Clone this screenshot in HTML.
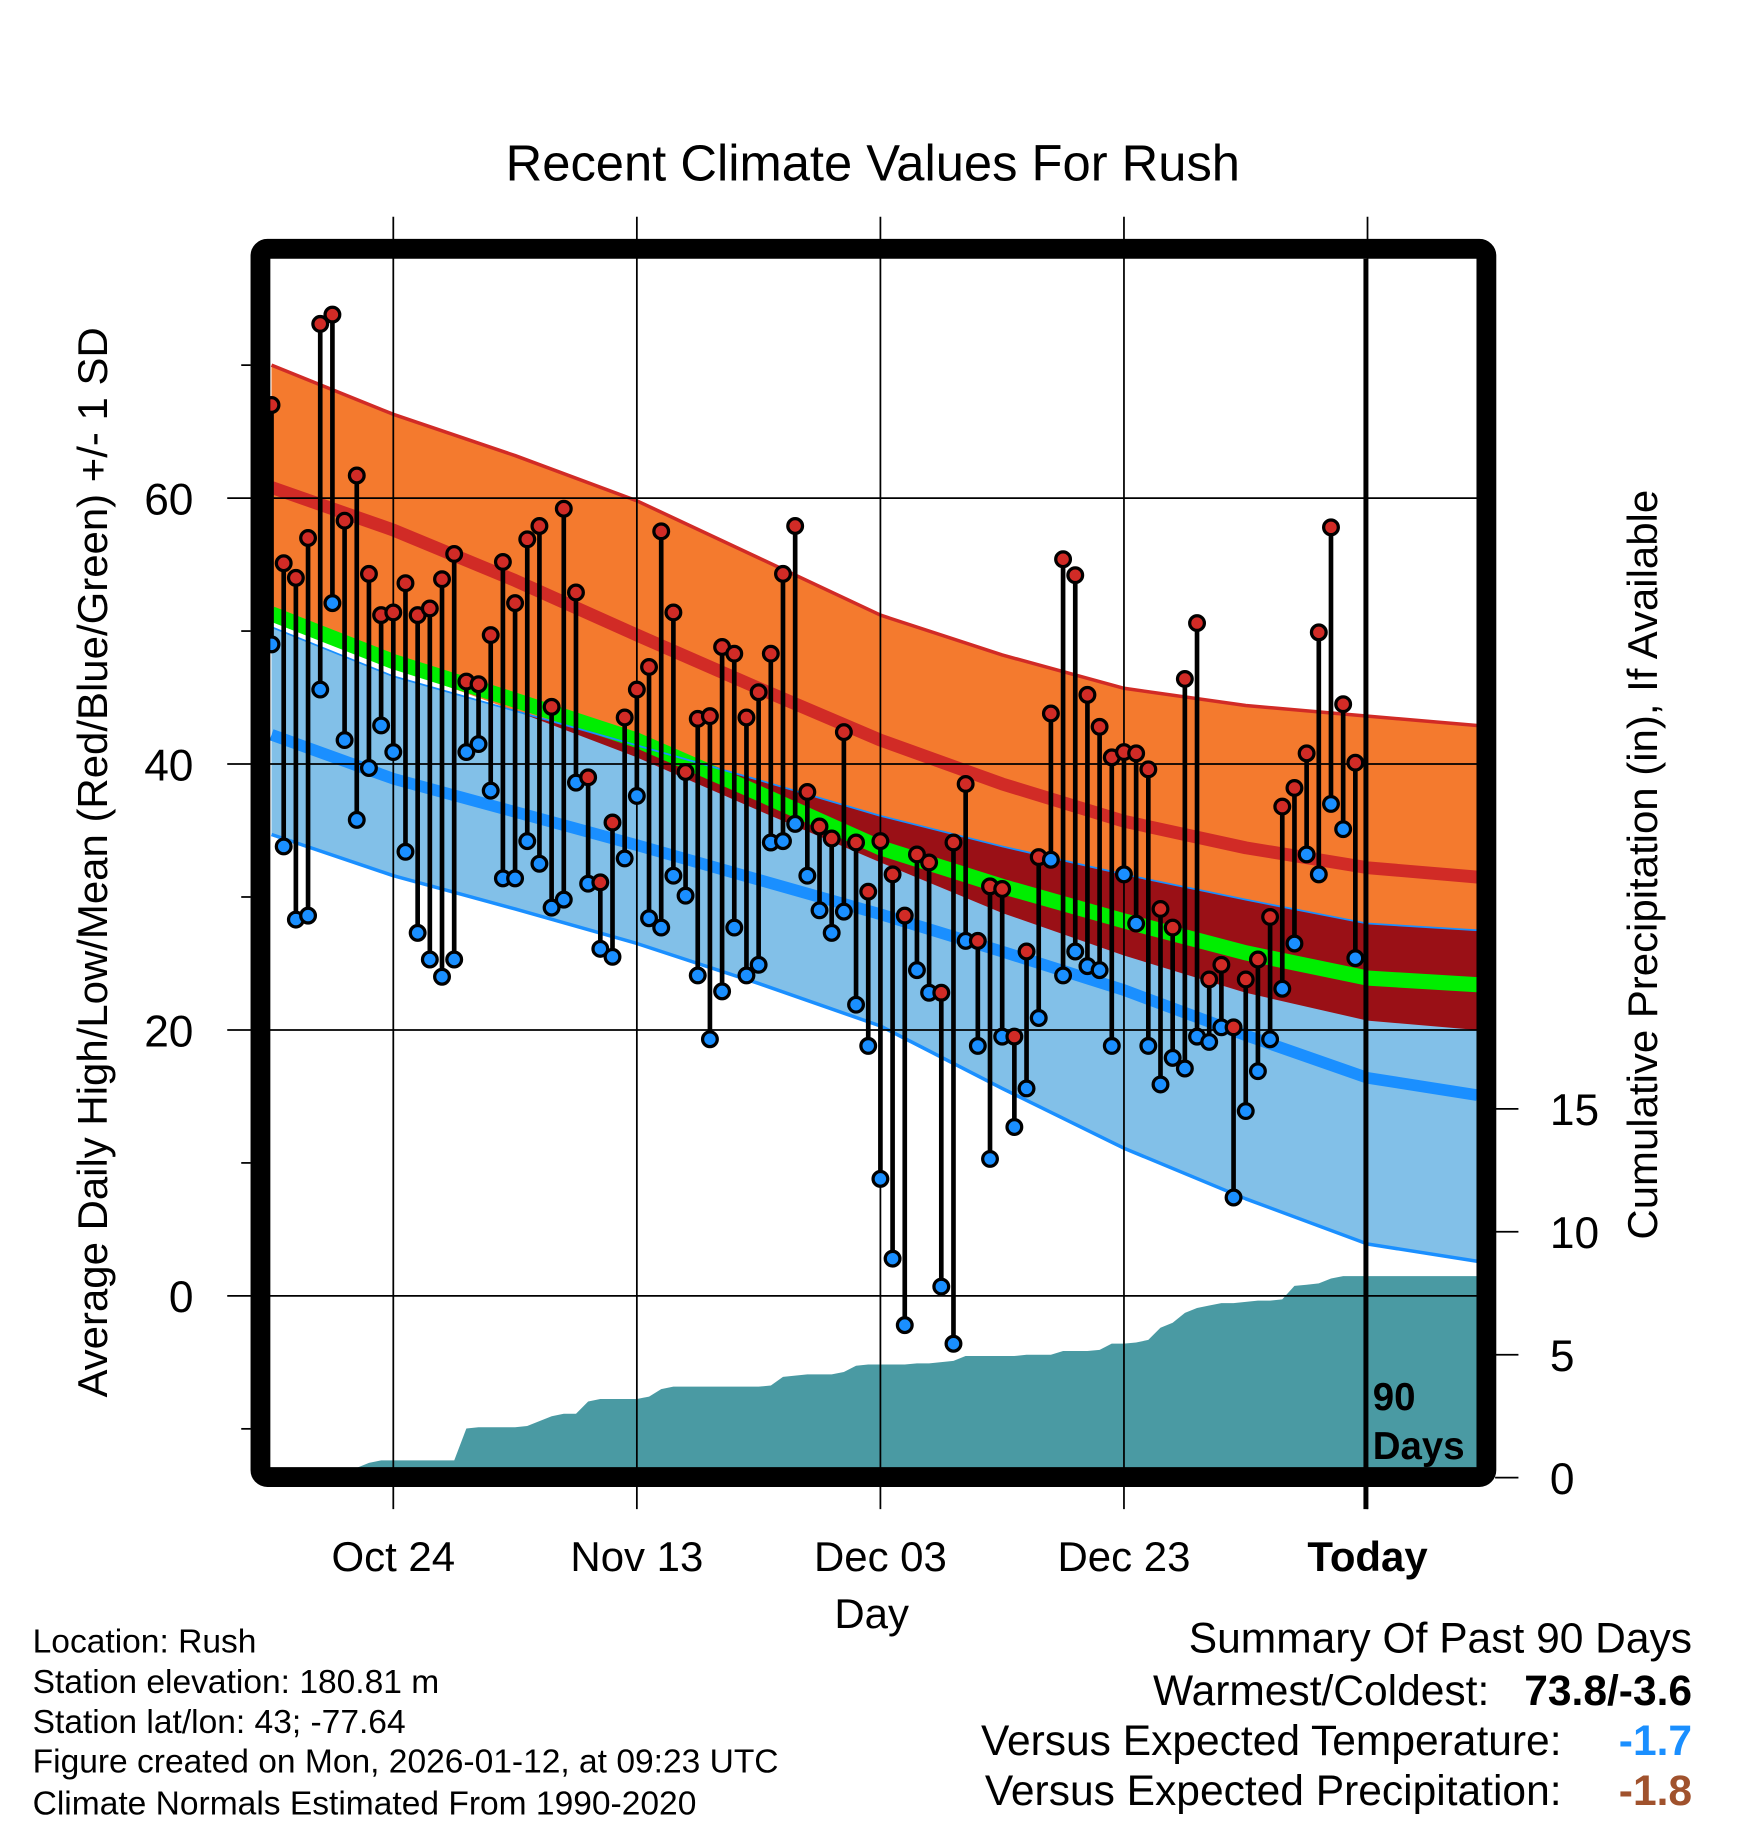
<!DOCTYPE html>
<html><head><meta charset="utf-8">
<style>
html,body{margin:0;padding:0;background:#fff}
svg{display:block}
text{font-family:"Liberation Sans",sans-serif}
</style></head>
<body>
<svg id="chart" width="1748" height="1828" viewBox="0 0 1500 1568.6" xmlns="http://www.w3.org/2000/svg">
<text x="749" y="155" font-size="43.5" text-anchor="middle">Recent Climate Values For Rush</text>
<g id="bands"></g>
<g id="grid"></g>
<g id="marks"></g>
<rect x="223.5" y="213.5" width="1052" height="1054" fill="none" stroke="#000" stroke-width="17" rx="6"/>
<line x1="1172" y1="222" x2="1172" y2="1295" stroke="#000" stroke-width="4"/>
<text x="1178" y="1210" font-size="33" font-weight="bold">90</text>
<text x="1178" y="1252" font-size="33" font-weight="bold">Days</text>
<g id="axes"></g>
<text x="748" y="1397" font-size="36" text-anchor="middle">Day</text>
<text transform="translate(92,740) rotate(-90)" font-size="36" text-anchor="middle">Average Daily High/Low/Mean (Red/Blue/Green) +/- 1 SD</text>
<text transform="translate(1422,742) rotate(-90)" font-size="36" text-anchor="middle">Cumulative Precipitation (in), If Available</text>
<g font-size="28.8">
<text x="28" y="1418">Location: Rush</text>
<text x="28" y="1453">Station elevation: 180.81 m</text>
<text x="28" y="1487">Station lat/lon: 43; -77.64</text>
<text x="28" y="1521">Figure created on Mon, 2026-01-12, at 09:23 UTC</text>
<text x="28" y="1557">Climate Normals Estimated From 1990-2020</text>
</g>
<g font-size="36.5">
<text x="1452" y="1418" text-anchor="end">Summary Of Past 90 Days</text>
<text x="1278" y="1463" text-anchor="end">Warmest/Coldest:</text>
<text x="1452" y="1463" text-anchor="end" font-weight="bold">73.8/-3.6</text>
<text x="1340" y="1506" text-anchor="end">Versus Expected Temperature:</text>
<text x="1452" y="1506" text-anchor="end" font-weight="bold" fill="#1a8fff">-1.7</text>
<text x="1340" y="1549" text-anchor="end">Versus Expected Precipitation:</text>
<text x="1452" y="1549" text-anchor="end" font-weight="bold" fill="#a0522d">-1.8</text>
</g>
</svg>
<script>
const highs=[67.0,55.1,54.0,57.0,73.1,73.8,58.3,61.7,54.3,51.2,51.4,53.6,51.2,51.7,53.9,55.8,46.2,46.0,49.7,55.2,52.1,56.9,57.9,44.3,59.2,52.9,39.0,31.1,35.6,43.5,45.6,47.3,57.5,51.4,39.4,43.4,43.6,48.8,48.3,43.5,45.4,48.3,54.3,57.9,37.9,35.3,34.4,42.4,34.1,30.4,34.2,31.7,28.6,33.2,32.6,22.8,34.1,38.5,26.7,30.8,30.6,19.5,25.9,33.0,43.8,55.4,54.2,45.2,42.8,40.5,40.9,40.8,39.6,29.1,27.7,46.4,50.6,23.8,24.9,20.2,23.8,25.3,28.5,36.8,38.2,40.8,49.9,57.8,44.5,40.1];
const lows=[49.0,33.8,28.3,28.6,45.6,52.1,41.8,35.8,39.7,42.9,40.9,33.4,27.3,25.3,24.0,25.3,40.9,41.5,38.0,31.4,31.4,34.2,32.5,29.2,29.8,38.6,31.0,26.1,25.5,32.9,37.6,28.4,27.7,31.6,30.1,24.1,19.3,22.9,27.7,24.1,24.9,34.1,34.2,35.5,31.6,29.0,27.3,28.9,21.9,18.8,8.8,2.8,-2.2,24.5,22.8,0.7,-3.6,26.7,18.8,10.3,19.5,12.7,15.6,20.9,32.8,24.1,25.9,24.8,24.5,18.8,31.7,28.0,18.8,15.9,17.9,17.1,19.5,19.1,20.2,7.4,13.9,16.9,19.3,23.1,26.5,33.2,31.7,37.0,35.1,25.4];
const precip=[0,0,0,0,0,0,0.4,0.4,0.6,0.7,0.7,0.7,0.7,0.7,0.7,0.7,2.0,2.05,2.05,2.05,2.05,2.1,2.3,2.5,2.6,2.6,3.1,3.2,3.2,3.2,3.2,3.3,3.6,3.7,3.7,3.7,3.7,3.7,3.7,3.7,3.7,3.75,4.1,4.15,4.2,4.2,4.2,4.3,4.55,4.6,4.6,4.6,4.6,4.65,4.65,4.7,4.75,4.95,4.95,4.95,4.95,4.95,5.0,5.0,5.0,5.15,5.15,5.15,5.2,5.45,5.45,5.5,5.6,6.1,6.3,6.7,6.9,7.0,7.1,7.1,7.15,7.2,7.2,7.25,7.8,7.85,7.9,8.1,8.2,8.2];
const normDays=[0,10,20,30,40,50,60,70,80,90,99];
const highPlus=[70.0,66.3,63.2,59.8,55.5,51.2,48.2,45.7,44.4,43.6,42.9];
const highMean=[60.8,57.6,53.8,49.7,45.7,41.8,38.5,35.7,33.7,32.2,31.5];
const highMinus=[50.8,47.3,44.0,40.5,36.5,32.6,28.8,25.6,22.8,20.7,20.0];
const meanT=[51.3,47.7,44.8,41.8,37.8,33.7,30.8,28.2,25.8,23.9,23.4];
const lowPlus=[50.3,46.6,44.0,41.4,38.8,36.1,33.8,31.7,29.8,28.0,27.5];
const lowMean=[42.2,38.9,36.4,33.9,31.3,28.7,25.9,23.0,19.6,16.4,15.1];
const lowMinus=[34.7,31.6,29.1,26.5,23.5,20.3,15.6,11.1,7.3,3.9,2.6];
const xTickDays=[10,30,50,70,90];
const xTickLabels=["Oct 24","Nov 13","Dec 03","Dec 23","Today"];
const yTicks=[0,20,40,60];
const yMinor=[-10,10,30,50,70];
const pTicks=[0,5,10,15];

const NS="http://www.w3.org/2000/svg";
const X=d=>233+10.45*d;
const Y=v=>1112-11.41*v;
const P=p=>Math.min(1260,1268-21.1*p);
function mk(tag,attrs,parent){const e=document.createElementNS(NS,tag);for(const k in attrs)e.setAttribute(k,attrs[k]);parent.appendChild(e);return e;}
const bands=document.getElementById('bands'),grid=document.getElementById('grid'),marks=document.getElementById('marks'),axes=document.getElementById('axes');
const xEnd=1268;
const nx=i=>Math.min(X(normDays[i]),xEnd);
const pts=arr=>arr.map((v,i)=>nx(i).toFixed(1)+','+Y(v).toFixed(1));
let pp=['232,1260','232,'+P(precip[0]).toFixed(1)];
precip.forEach((p,i)=>pp.push(X(i).toFixed(1)+','+P(p).toFixed(1)));
pp.push(xEnd+','+P(precip[precip.length-1]).toFixed(1));pp.push(xEnd+',1260');
let el=mk('polygon',{points:pp.join(' '),fill:'#4a9aa3'},bands);


function band(top,bot,fill,name){const p=pts(top).concat(pts(bot).reverse());const e=mk('polygon',{points:p.join(' '),fill:fill},bands);

}
band(highPlus,highMinus,'#f47a2e','high-sd-band');
band(lowPlus,lowMinus,'#82c0e8','low-sd-band');
const ovBot=highMinus.map((v,i)=>Math.min(v,lowPlus[i]));
band(lowPlus,ovBot,'#9a1016','overlap-band');
function line(arr,color,w,name){const e=mk('polyline',{points:pts(arr).join(' '),fill:'none',stroke:color,'stroke-width':w,'stroke-linejoin':'round'},bands);

}
line(highPlus,'#d12b26',3,'high-plus-line');
line(highMean,'#d12b26',11,'mean-high-line');
line(meanT,'#00ee00',13,'mean-temp-line');
line(lowMean,'#1a8fff',10,'mean-low-line');
line(lowMinus,'#1a8fff',3,'low-minus-line');
line(lowPlus,'#1a8fff',1.5,'low-plus-line');
yTicks.forEach(v=>{const e=mk('line',{x1:195,x2:1268,y1:Y(v),y2:Y(v),stroke:'#000','stroke-width':1.5},grid);

});
xTickDays.forEach(d=>{const e=mk('line',{x1:X(d),x2:X(d),y1:186,y2:1295,stroke:'#000','stroke-width':1.5},grid);

});
highs.forEach((h,i)=>{const l=lows[i];
const s=mk('line',{x1:X(i),x2:X(i),y1:Y(h),y2:Y(l),stroke:'#000','stroke-width':4},marks);


const c1=mk('circle',{cx:X(i),cy:Y(l),r:6.3,fill:'#1a8fff',stroke:'#000','stroke-width':2.8},marks);


const c2=mk('circle',{cx:X(i),cy:Y(h),r:6.3,fill:'#d12b26',stroke:'#000','stroke-width':2.8},marks);

});
yTicks.forEach(v=>{const t=mk('text',{x:166,y:Y(v)+14,'font-size':38,'text-anchor':'end'},axes);t.textContent=v;

});
yMinor.forEach(v=>{const e=mk('line',{x1:207,x2:215,y1:Y(v),y2:Y(v),stroke:'#000','stroke-width':1.5},axes);

});
xTickDays.forEach((d,i)=>{const t=mk('text',{x:X(d),y:1348,'font-size':36,'text-anchor':'middle'},axes);t.textContent=xTickLabels[i];
if(xTickLabels[i]==='Today')t.setAttribute('font-weight','bold');

});
pTicks.forEach(p=>{const y=1268-21.1*p;const e=mk('line',{x1:1283,x2:1303,y1:y,y2:y,stroke:'#000','stroke-width':1.5},axes);


const t=mk('text',{x:1330,y:y+14,'font-size':38},axes);t.textContent=p;

});
</script>
</body></html>
